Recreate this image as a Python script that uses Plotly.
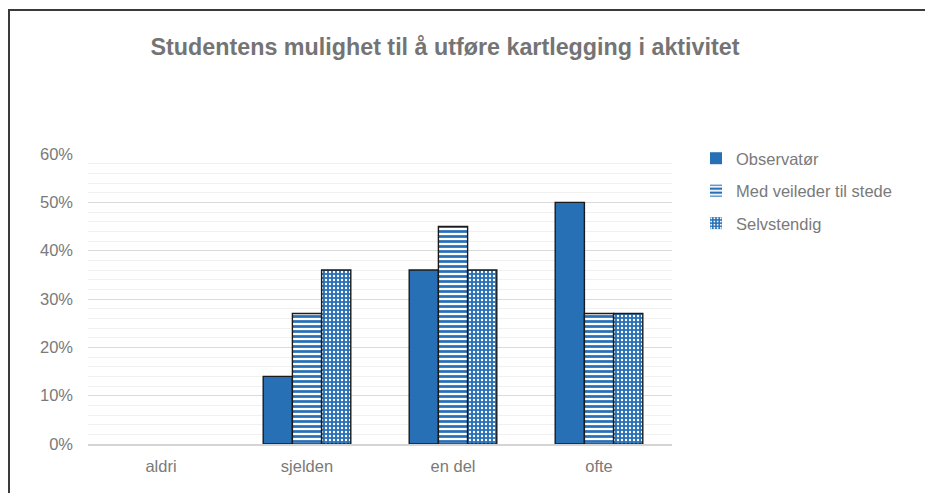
import plotly.graph_objects as go

categories = ["aldri", "sjelden", "en del", "ofte"]
observator = [0, 0.14, 0.36, 0.50]
med_veileder = [0, 0.27, 0.45, 0.27]
selvstendig = [0, 0.36, 0.36, 0.27]
series_names = ["Observatør", "Med veileder til stede", "Selvstendig"]
title_text = "Studentens mulighet til å utføre kartlegging i aktivitet"

BLUE = "#2870B5"
TITLE_GRAY = "#747474"
GRAY = "#7a7a7a"
FONT = "Liberation Sans, Arial, sans-serif"
FS = 16.5

W, H = 933, 493
L, R, T, B = 80, 269, 146, 57
pw, ph = W - L - R, H - T - B

def px_to_paper_x(x):
    return (x - L) / pw

def px_to_paper_y(y):
    return (H - B - y) / ph

def outline(values):
    return dict(color="#1a1a1a", width=[0 if v == 0 else 1.4 for v in values])

fig = go.Figure()
fig.add_trace(go.Bar(x=categories, y=observator, name=series_names[0],
                     legendgroup="a",
                     marker=dict(color=BLUE, line=outline(observator))))
fig.add_trace(go.Bar(x=categories, y=med_veileder, name=series_names[1],
                     legendgroup="b",
                     marker=dict(color="white", line=outline(med_veileder),
                                 pattern=dict(shape="-", fgcolor=BLUE, bgcolor="white",
                                              size=5, solidity=0.55, fillmode="replace"))))
fig.add_trace(go.Bar(x=categories, y=selvstendig, name=series_names[2],
                     legendgroup="c",
                     marker=dict(color=BLUE, line=outline(selvstendig),
                                 pattern=dict(shape=".", fgcolor="white", bgcolor=BLUE,
                                              size=4, solidity=0.28, fillmode="replace"))))

fig.update_layout(
    width=W, height=H,
    margin=dict(l=L, r=R, t=T, b=B),
    paper_bgcolor="white", plot_bgcolor="white",
    barmode="group", bargap=0.4, bargroupgap=0,
    font=dict(family=FONT, size=FS, color=GRAY),
    title=dict(text="<b>" + title_text + "</b>", x=437 / W, xanchor="center",
               xref="container", y=1 - 39 / H, yref="container", yanchor="middle",
               font=dict(family=FONT, size=23.3, color=TITLE_GRAY)),
    legend=dict(x=px_to_paper_x(688), y=px_to_paper_y(133), xanchor="left", yanchor="top",
                font=dict(family=FONT, size=FS, color=GRAY), tracegroupgap=8,
                bgcolor="rgba(0,0,0,0)"),
    showlegend=True,
)
fig.update_yaxes(range=[0, 0.6], dtick=0.1, tickformat=".0%", showgrid=True,
                 gridcolor="#d9d9d9", gridwidth=1, zeroline=False,
                 ticks="", ticklabelstandoff=14,
                 tickfont=dict(family=FONT, size=FS, color=GRAY),
                 minor=dict(dtick=0.02, showgrid=True, gridcolor="#f0f0f0", gridwidth=1),
                 showline=False)
fig.update_xaxes(showline=True, linecolor="#d4d4d4", linewidth=2, ticks="",
                 ticklabelstandoff=6,
                 tickfont=dict(family=FONT, size=FS, color=GRAY))

fig.add_shape(type="rect", xref="paper", yref="paper",
              x0=px_to_paper_x(1), x1=px_to_paper_x(1000),
              y0=px_to_paper_y(520), y1=px_to_paper_y(2),
              line=dict(color="#3a3a3a", width=2), fillcolor="rgba(0,0,0,0)", layer="above")

fig.write_html("out.html")
